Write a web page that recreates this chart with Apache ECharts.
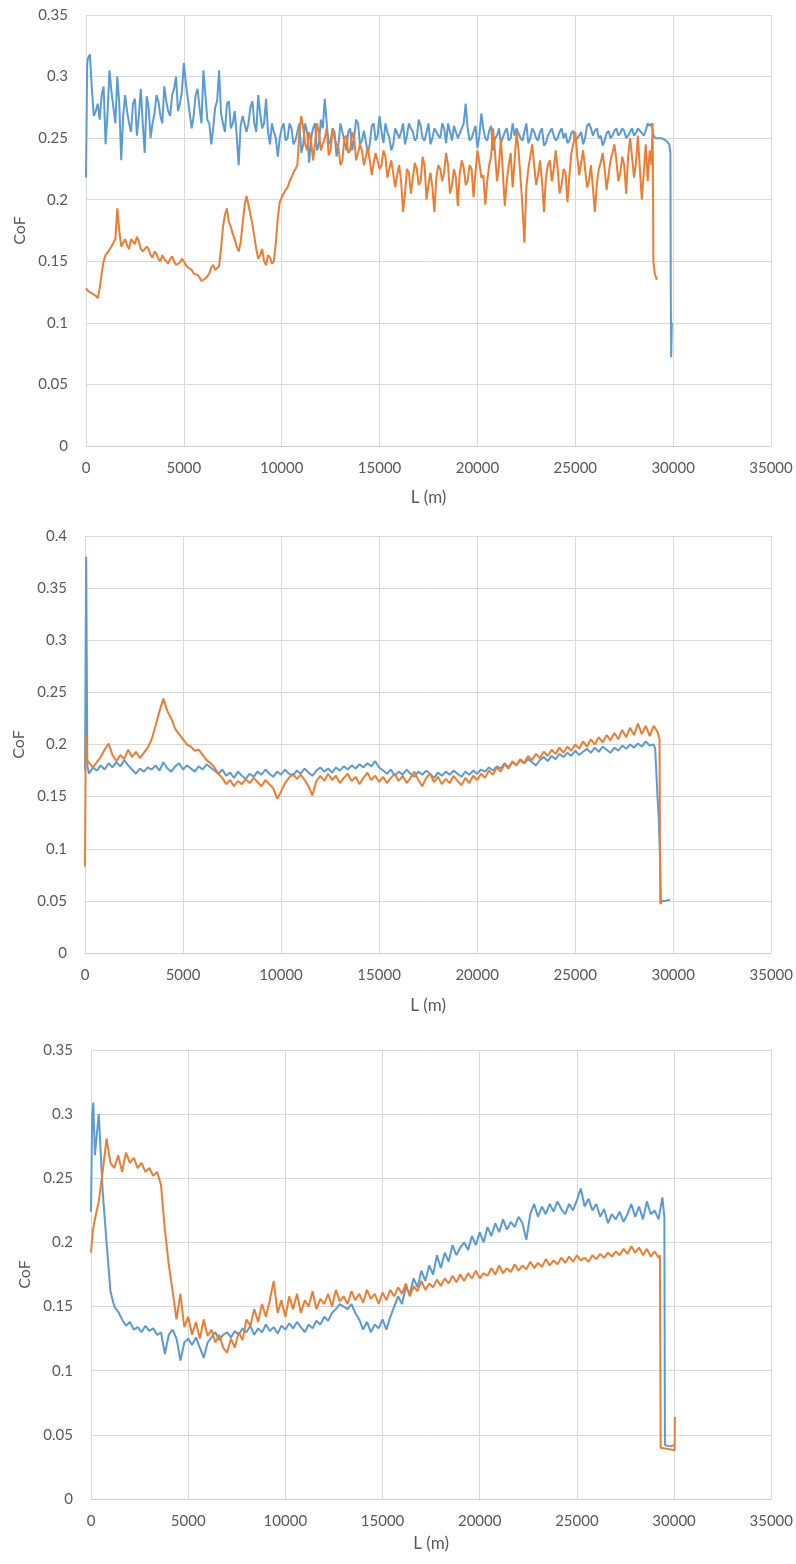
<!DOCTYPE html>
<html>
<head>
<meta charset="utf-8">
<script src="https://cdn.jsdelivr.net/npm/echarts@6/dist/echarts.min.js"></script>
<style>
  html, body { margin: 0; padding: 0; background: #ffffff; }
  #chart { width: 796px; height: 1564px; }
</style>
</head>
<body>
<div id="chart"></div>
<script>
// Sliding distance (m) of the regularly sampled part of every run
const STEP_L = [
  200,400,600,800,1000,1200,1400,1600,1800,2000,
  2200,2400,2600,2800,3000,3200,3400,3600,3800,4000,
  4200,4400,4600,4800,5000,5200,5400,5600,5800,6000,
  6200,6400,6600,6800,7000,7200,7400,7600,7800,8000,
  8200,8400,8600,8800,9000,9200,9400,9600,9800,10000,
  10200,10400,10600,10800,11000,11200,11400,11600,11800,12000,
  12200,12400,12600,12800,13000,13200,13400,13600,13800,14000,
  14200,14400,14600,14800,15000,15200,15400,15600,15800,16000,
  16200,16400,16600,16800,17000,17200,17400,17600,17800,18000,
  18200,18400,18600,18800,19000,19200,19400,19600,19800,20000,
  20200,20400,20600,20800,21000,21200,21400,21600,21800,22000,
  22200,22400,22600,22800,23000,23200,23400,23600,23800,24000,
  24200,24400,24600,24800,25000,25200,25400,25600,25800,26000,
  26200,26400,26600,26800,27000,27200,27400,27600,27800,28000,
  28200,28400,28600,28800
];
// Intermediate distances (m) logged for the first run
const HALF_L = [
  100,300,500,700,900,1100,1300,1500,1700,1900,
  2100,2300,2500,2700,2900,3100,3300,3500,3700,3900,
  4100,4300,4500,4700,4900,5100,5300,5500,5700,5900,
  6100,6300,6500,6700,6900,7100,7300,7500,7700,7900,
  8100,8300,8500,8700,8900,9100,9300,9500,9700,9900,
  10100,10300,10500,10700,10900,11100,11300,11500,11700,11900,
  12100,12300,12500,12700,12900,13100,13300,13500,13700,13900,
  14100,14300,14500,14700,14900,15100,15300,15500,15700,15900,
  16100,16300,16500,16700,16900,17100,17300,17500,17700,17900,
  18100,18300,18500,18700,18900,19100,19300,19500,19700,19900,
  20100,20300,20500,20700,20900,21100,21300,21500,21700,21900,
  22100,22300,22500,22700,22900,23100,23300,23500,23700,23900,
  24100,24300,24500,24700,24900,25100,25300,25500,25700,25900,
  26100,26300,26500,26700,26900,27100,27300,27500,27700,27900,
  28100,28300,28500,28700
];

// ---------- Top panel ----------
const TOP_BLUE_HEAD_L = [0, 60];
const TOP_BLUE_HEAD = [0.218, 0.310];
const TOP_BLUE = [
  0.318,0.268,0.278,0.285,0.245,0.305,0.275,0.300,0.232,0.285,
  0.262,0.278,0.252,0.290,0.238,0.275,0.262,0.285,0.268,0.292,
  0.272,0.285,0.300,0.278,0.311,0.282,0.258,0.285,0.275,0.305,
  0.265,0.245,0.275,0.305,0.262,0.278,0.258,0.272,0.228,0.268,
  0.255,0.275,0.262,0.285,0.258,0.282,0.245,0.255,0.235,0.258,
  0.248,0.262,0.245,0.255,0.238,0.262,0.230,0.258,0.240,0.265,
  0.282,0.245,0.258,0.235,0.262,0.248,0.255,0.240,0.265,0.245,
  0.256,0.238,0.260,0.248,0.268,0.246,0.255,0.240,0.258,0.250,
  0.262,0.252,0.258,0.248,0.265,0.250,0.255,0.245,0.258,0.252,
  0.262,0.246,0.255,0.260,0.250,0.258,0.278,0.248,0.255,0.242,
  0.270,0.250,0.256,0.240,0.252,0.246,0.255,0.248,0.262,0.258,
  0.250,0.255,0.246,0.258,0.250,0.255,0.244,0.252,0.258,0.248,
  0.255,0.250,0.246,0.254,0.248,0.252,0.245,0.260,0.258,0.256,
  0.250,0.244,0.254,0.250,0.256,0.252,0.258,0.250,0.255,0.252,
  0.258,0.254,0.256,0.260
];
const TOP_BLUE_HALF = [
  0.315,0.290,0.272,0.265,0.292,0.270,0.288,0.262,0.278,0.268,
  0.272,0.255,0.282,0.268,0.262,0.284,0.250,0.270,0.280,0.262,
  0.280,0.268,0.290,0.272,0.288,0.295,0.270,0.268,0.290,0.262,
  0.285,0.262,0.258,0.280,0.270,0.255,0.280,0.262,0.252,0.260,
  0.268,0.262,0.280,0.255,0.270,0.262,0.255,0.262,0.250,0.250,
  0.262,0.250,0.258,0.248,0.262,0.245,0.255,0.250,0.262,0.245,
  0.258,0.262,0.248,0.255,0.245,0.262,0.240,0.258,0.250,0.262,
  0.248,0.255,0.245,0.262,0.252,0.255,0.262,0.250,0.245,0.258,
  0.255,0.245,0.262,0.255,0.250,0.260,0.248,0.262,0.250,0.258,
  0.250,0.258,0.262,0.248,0.255,0.250,0.262,0.258,0.250,0.260,
  0.252,0.258,0.248,0.260,0.250,0.258,0.245,0.258,0.250,0.252,
  0.258,0.248,0.262,0.250,0.255,0.248,0.258,0.246,0.255,0.252,
  0.250,0.258,0.254,0.248,0.256,0.250,0.255,0.250,0.262,0.252,
  0.258,0.252,0.248,0.256,0.252,0.258,0.254,0.256,0.252,0.258,
  0.254,0.258,0.252,0.262
];
const TOP_BLUE_TAIL_L = [28900, 29000, 29100, 29400, 29650, 29800, 29860, 29880, 29900, 29930, 29950];
const TOP_BLUE_TAIL = [0.262, 0.252, 0.250, 0.250, 0.248, 0.245, 0.238, 0.120, 0.072, 0.100, 0.098];

const TOP_ORANGE_HEAD_L = [0];
const TOP_ORANGE_HEAD = [0.128];
const TOP_ORANGE = [
  0.125,0.124,0.120,0.140,0.155,0.158,0.165,0.193,0.162,0.168,
  0.160,0.166,0.170,0.160,0.157,0.160,0.153,0.156,0.150,0.152,
  0.148,0.154,0.147,0.149,0.150,0.145,0.143,0.141,0.137,0.135,
  0.137,0.145,0.143,0.146,0.178,0.193,0.178,0.168,0.158,0.180,
  0.203,0.188,0.170,0.152,0.160,0.147,0.153,0.150,0.185,0.202,
  0.208,0.215,0.222,0.228,0.268,0.245,0.255,0.232,0.262,0.240,
  0.250,0.236,0.258,0.245,0.228,0.250,0.238,0.255,0.232,0.245,
  0.228,0.242,0.220,0.238,0.225,0.240,0.218,0.232,0.210,0.228,
  0.190,0.225,0.205,0.230,0.212,0.235,0.200,0.222,0.190,0.228,
  0.215,0.238,0.205,0.225,0.195,0.232,0.212,0.228,0.202,0.240,
  0.218,0.196,0.228,0.258,0.215,0.250,0.195,0.228,0.210,0.255,
  0.218,0.165,0.225,0.245,0.212,0.232,0.190,0.228,0.215,0.240,
  0.205,0.225,0.198,0.238,0.255,0.220,0.240,0.210,0.228,0.190,
  0.225,0.238,0.208,0.232,0.245,0.215,0.235,0.205,0.250,0.218,
  0.252,0.200,0.245,0.240
];
const TOP_ORANGE_HALF = [
  0.126,0.124,0.122,0.128,0.150,0.157,0.162,0.168,0.175,0.165,
  0.163,0.168,0.164,0.166,0.158,0.162,0.155,0.158,0.152,0.155,
  0.150,0.152,0.150,0.146,0.152,0.147,0.145,0.140,0.139,0.134,
  0.136,0.140,0.147,0.144,0.160,0.188,0.182,0.172,0.162,0.165,
  0.195,0.196,0.180,0.160,0.155,0.150,0.155,0.148,0.165,0.198,
  0.205,0.210,0.218,0.225,0.255,0.258,0.240,0.248,0.245,0.255,
  0.245,0.258,0.240,0.250,0.242,0.232,0.252,0.240,0.250,0.238,
  0.240,0.235,0.232,0.230,0.238,0.228,0.235,0.225,0.232,0.220,
  0.215,0.205,0.222,0.218,0.225,0.215,0.228,0.212,0.210,0.218,
  0.225,0.222,0.228,0.212,0.218,0.222,0.226,0.215,0.225,0.222,
  0.230,0.220,0.215,0.235,0.238,0.228,0.222,0.215,0.238,0.232,
  0.240,0.195,0.210,0.235,0.228,0.220,0.215,0.218,0.232,0.225,
  0.225,0.212,0.222,0.220,0.245,0.235,0.230,0.225,0.215,0.210,
  0.212,0.230,0.225,0.220,0.238,0.232,0.222,0.228,0.235,0.235,
  0.230,0.225,0.222,0.215
];
const TOP_ORANGE_TAIL_L = [28900, 28950, 28975, 28990, 29060, 29170];
const TOP_ORANGE_TAIL = [0.228, 0.262, 0.200, 0.150, 0.140, 0.135];

// ---------- Middle panel ----------
const MID_BLUE_HEAD_L = [0, 60, 120];
const MID_BLUE_HEAD = [0.175, 0.380, 0.180];
const MID_BLUE = [
  0.172,0.178,0.175,0.180,0.176,0.182,0.178,0.183,0.179,0.185,
  0.180,0.176,0.172,0.177,0.174,0.178,0.176,0.180,0.175,0.183,
  0.177,0.174,0.179,0.182,0.176,0.180,0.177,0.174,0.179,0.176,
  0.181,0.178,0.175,0.172,0.176,0.170,0.173,0.168,0.174,0.170,
  0.167,0.172,0.169,0.174,0.171,0.176,0.172,0.169,0.174,0.171,
  0.176,0.172,0.170,0.175,0.172,0.177,0.173,0.170,0.175,0.178,
  0.174,0.177,0.173,0.178,0.175,0.179,0.176,0.180,0.177,0.181,
  0.178,0.182,0.179,0.184,0.178,0.175,0.172,0.176,0.170,0.174,
  0.171,0.176,0.172,0.169,0.174,0.171,0.175,0.172,0.168,0.173,
  0.170,0.174,0.171,0.175,0.172,0.169,0.174,0.171,0.175,0.172,
  0.176,0.174,0.178,0.175,0.179,0.177,0.182,0.178,0.183,0.180,
  0.185,0.182,0.186,0.183,0.180,0.185,0.188,0.184,0.189,0.186,
  0.191,0.188,0.192,0.189,0.194,0.190,0.193,0.196,0.192,0.197,
  0.193,0.198,0.195,0.192,0.197,0.194,0.199,0.196,0.200,0.197,
  0.201,0.198,0.203,0.199
];
const MID_BLUE_TAIL_L = [29000, 29080, 29120, 29200, 29260, 29330, 29370, 29600, 29840];
const MID_BLUE_TAIL = [0.200, 0.196, 0.180, 0.150, 0.130, 0.090, 0.050, 0.050, 0.051];

const MID_ORANGE_HEAD_L = [0, 40, 100];
const MID_ORANGE_HEAD = [0.083, 0.210, 0.185];
const MID_ORANGE = [
  0.185,0.178,0.183,0.188,0.195,0.201,0.190,0.184,0.190,0.186,
  0.195,0.188,0.193,0.187,0.192,0.197,0.205,0.218,0.232,0.244,
  0.232,0.225,0.215,0.210,0.205,0.200,0.198,0.194,0.195,0.190,
  0.185,0.182,0.178,0.172,0.168,0.162,0.166,0.160,0.165,0.162,
  0.167,0.163,0.168,0.164,0.160,0.166,0.162,0.158,0.148,0.155,
  0.163,0.168,0.172,0.167,0.171,0.166,0.160,0.151,0.165,0.170,
  0.165,0.172,0.166,0.170,0.163,0.168,0.172,0.165,0.169,0.162,
  0.168,0.173,0.166,0.170,0.164,0.169,0.163,0.168,0.172,0.165,
  0.170,0.163,0.168,0.174,0.166,0.160,0.168,0.172,0.164,0.169,
  0.162,0.167,0.163,0.170,0.165,0.161,0.168,0.163,0.170,0.166,
  0.172,0.168,0.175,0.171,0.178,0.174,0.181,0.177,0.184,0.180,
  0.186,0.182,0.189,0.185,0.191,0.187,0.193,0.189,0.195,0.191,
  0.197,0.192,0.198,0.194,0.200,0.196,0.203,0.198,0.205,0.200,
  0.207,0.202,0.209,0.204,0.211,0.205,0.214,0.207,0.216,0.209,
  0.220,0.210,0.218,0.208
];
const MID_ORANGE_TAIL_L = [29000, 29200, 29300, 29340, 29420];
const MID_ORANGE_TAIL = [0.218, 0.212, 0.205, 0.047, 0.049];

// ---------- Bottom panel ----------
const BOT_BLUE_HEAD_L = [0, 60, 120];
const BOT_BLUE_HEAD = [0.224, 0.300, 0.309];
const BOT_BLUE = [
  0.268,0.300,0.240,0.200,0.162,0.150,0.146,0.140,0.135,0.138,
  0.132,0.134,0.130,0.135,0.131,0.133,0.128,0.130,0.113,0.128,
  0.132,0.125,0.108,0.122,0.125,0.120,0.126,0.118,0.110,0.122,
  0.126,0.130,0.124,0.128,0.130,0.126,0.131,0.128,0.133,0.130,
  0.135,0.128,0.133,0.130,0.136,0.131,0.134,0.129,0.135,0.132,
  0.137,0.133,0.138,0.134,0.130,0.136,0.133,0.139,0.136,0.142,
  0.139,0.145,0.148,0.152,0.150,0.148,0.152,0.145,0.140,0.132,
  0.138,0.130,0.136,0.133,0.140,0.132,0.142,0.150,0.158,0.152,
  0.165,0.160,0.172,0.165,0.178,0.170,0.182,0.175,0.190,0.180,
  0.192,0.185,0.198,0.190,0.196,0.200,0.194,0.205,0.198,0.208,
  0.200,0.212,0.205,0.215,0.208,0.218,0.210,0.216,0.212,0.220,
  0.215,0.202,0.222,0.230,0.220,0.228,0.222,0.230,0.224,0.232,
  0.226,0.222,0.230,0.225,0.233,0.242,0.228,0.234,0.225,0.230,
  0.220,0.226,0.215,0.222,0.218,0.224,0.216,0.222,0.230,0.220,
  0.228,0.218,0.232,0.222
];
const BOT_BLUE_TAIL_L = [29000, 29200, 29400, 29500, 29530, 29800, 30000];
const BOT_BLUE_TAIL = [0.225, 0.218, 0.235, 0.220, 0.042, 0.041, 0.042];

const BOT_ORANGE_HEAD_L = [0, 100];
const BOT_ORANGE_HEAD = [0.192, 0.210];
const BOT_ORANGE = [
  0.218,0.232,0.255,0.281,0.262,0.258,0.268,0.255,0.270,0.262,
  0.266,0.258,0.262,0.255,0.258,0.252,0.255,0.245,0.210,0.183,
  0.162,0.140,0.160,0.134,0.142,0.128,0.138,0.125,0.140,0.127,
  0.132,0.122,0.128,0.118,0.114,0.125,0.118,0.130,0.124,0.140,
  0.135,0.148,0.138,0.152,0.142,0.155,0.170,0.145,0.155,0.142,
  0.158,0.148,0.160,0.145,0.155,0.150,0.162,0.148,0.156,0.152,
  0.160,0.150,0.163,0.154,0.158,0.152,0.162,0.155,0.160,0.153,
  0.163,0.156,0.160,0.152,0.161,0.155,0.163,0.158,0.165,0.160,
  0.168,0.158,0.166,0.162,0.170,0.163,0.168,0.165,0.171,0.166,
  0.172,0.168,0.174,0.169,0.175,0.170,0.176,0.172,0.178,0.172,
  0.176,0.174,0.180,0.175,0.182,0.176,0.180,0.177,0.183,0.178,
  0.182,0.179,0.185,0.180,0.184,0.181,0.187,0.182,0.186,0.183,
  0.188,0.184,0.189,0.185,0.190,0.186,0.188,0.185,0.190,0.187,
  0.191,0.188,0.192,0.189,0.193,0.190,0.195,0.191,0.197,0.192,
  0.196,0.190,0.195,0.189
];
const BOT_ORANGE_TAIL_L = [29000, 29200, 29270, 29310, 29700, 30030, 30040];
const BOT_ORANGE_TAIL = [0.193, 0.188, 0.190, 0.040, 0.039, 0.038, 0.064];

// Axis ranges and titles
const X_MAX = 35000, X_STEP = 5000;
const Y_MAX = [0.35, 0.4, 0.35];
const Y_STEP = 0.05;
const X_TITLE = 'L (m)';
const Y_TITLE = 'CoF';

const BLUE = '#5b9bd5';
const ORANGE = '#ed7d31';
const TEXT = '#595959';
const GRIDLINE = '#d9d9d9';
const FONT = 'Lato, "Open Sans", sans-serif';

// join head, regular body (plus optional intermediate samples) and tail
// into [distance, CoF] pairs ordered by distance
function run(headL, headV, bodyV, tailL, tailV, halfV) {
  const out = [];
  headL.forEach((d, i) => out.push([d, headV[i]]));
  STEP_L.forEach((d, i) => out.push([d, bodyV[i]]));
  if (halfV) HALF_L.forEach((d, i) => out.push([d, halfV[i]]));
  tailL.forEach((d, i) => out.push([d, tailV[i]]));
  out.sort((a, b) => a[0] - b[0]);
  return out;
}

const panels = [
  { rect: { left: 86, top: 15, width: 685, height: 431 }, xGap: 43, yGap: 57,
    blue: run(TOP_BLUE_HEAD_L, TOP_BLUE_HEAD, TOP_BLUE, TOP_BLUE_TAIL_L, TOP_BLUE_TAIL, TOP_BLUE_HALF),
    orange: run(TOP_ORANGE_HEAD_L, TOP_ORANGE_HEAD, TOP_ORANGE, TOP_ORANGE_TAIL_L, TOP_ORANGE_TAIL, TOP_ORANGE_HALF) },
  { rect: { left: 85, top: 536, width: 698, height: 417 }, xGap: 44, yGap: 58,
    blue: run(MID_BLUE_HEAD_L, MID_BLUE_HEAD, MID_BLUE, MID_BLUE_TAIL_L, MID_BLUE_TAIL),
    orange: run(MID_ORANGE_HEAD_L, MID_ORANGE_HEAD, MID_ORANGE, MID_ORANGE_TAIL_L, MID_ORANGE_TAIL) },
  { rect: { left: 91, top: 1050, width: 687, height: 449 }, xGap: 36, yGap: 58,
    blue: run(BOT_BLUE_HEAD_L, BOT_BLUE_HEAD, BOT_BLUE, BOT_BLUE_TAIL_L, BOT_BLUE_TAIL),
    orange: run(BOT_ORANGE_HEAD_L, BOT_ORANGE_HEAD, BOT_ORANGE, BOT_ORANGE_TAIL_L, BOT_ORANGE_TAIL) }
];

const grid = [], xAxis = [], yAxis = [], series = [];
panels.forEach((p, i) => {
  grid.push(Object.assign({ containLabel: false }, p.rect));
  xAxis.push({
    type: 'value', gridIndex: i, min: 0, max: X_MAX, interval: X_STEP,
    name: X_TITLE, nameLocation: 'middle', nameGap: p.xGap,
    nameTextStyle: { color: TEXT, fontSize: 17, fontFamily: FONT },
    axisLine: { show: true, lineStyle: { color: '#cfcfcf', width: 1 } },
    axisTick: { show: false },
    axisLabel: { color: TEXT, fontSize: 15, fontFamily: FONT, margin: 15,
                 formatter: v => String(v) },
    splitLine: { show: true, lineStyle: { color: GRIDLINE, width: 1 } }
  });
  yAxis.push({
    type: 'value', gridIndex: i, min: 0, max: Y_MAX[i], interval: Y_STEP,
    name: Y_TITLE, nameLocation: 'middle', nameGap: p.yGap,
    nameTextStyle: { color: TEXT, fontSize: 16, fontFamily: FONT },
    axisLine: { show: false },
    axisTick: { show: false },
    axisLabel: { color: TEXT, fontSize: 15, fontFamily: FONT, margin: 18,
                 formatter: v => String(+v.toFixed(2)) },
    splitLine: { show: true, lineStyle: { color: GRIDLINE, width: 1 } }
  });
  series.push({
    type: 'line', xAxisIndex: i, yAxisIndex: i, data: p.blue,
    showSymbol: false, symbol: 'none', lineStyle: { color: BLUE, width: 2 }, z: 2
  });
  series.push({
    type: 'line', xAxisIndex: i, yAxisIndex: i, data: p.orange,
    showSymbol: false, symbol: 'none', lineStyle: { color: ORANGE, width: 2 }, z: 3
  });
});

const chart = echarts.init(document.getElementById('chart'), null, { renderer: 'canvas' });
chart.setOption({
  animation: false,
  backgroundColor: '#ffffff',
  grid, xAxis, yAxis, series
});
</script>
</body>
</html>
